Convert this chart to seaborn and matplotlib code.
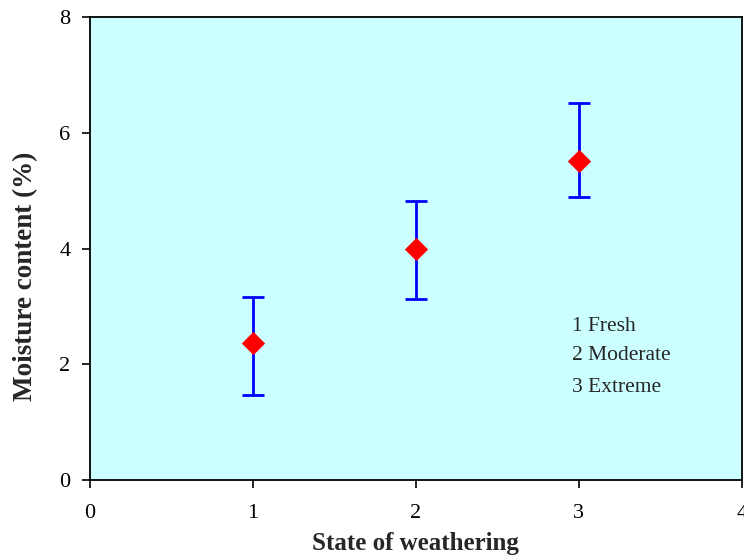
import numpy as np
import matplotlib
matplotlib.use("Agg")
import matplotlib.pyplot as plt
import seaborn as sns

# Data
weathering = [1, 2, 3]
moisture = [2.37, 4.0, 5.52]
err_low = [1.47, 3.13, 4.89]
err_high = [3.17, 4.83, 6.52]
legend_lines = ["1 Fresh", "2 Moderate", "3 Extreme"]
legend_y = [2.66, 2.16, 1.60]

sns.set_style("ticks")
plt.rcParams['font.family'] = ['Liberation Serif', 'DejaVu Serif']

fig = plt.figure(figsize=(7.44, 5.57), dpi=100)
ax = fig.add_axes([0.121, 0.138, 0.876, 0.831])
ax.set_facecolor("#CCFFFF")

m = np.array(moisture)
yerr = [m - np.array(err_low), np.array(err_high) - m]
ax.errorbar(weathering, moisture, yerr=yerr, fmt="none", ecolor="#0000FF",
            elinewidth=2, capsize=8, capthick=2, zorder=2)
sns.scatterplot(x=weathering, y=moisture, marker="D", color="#FF0000",
                s=140, linewidth=0, ax=ax, zorder=3)

ax.set_xlim(0, 4)
ax.set_ylim(0, 8)
ax.set_xticks([0, 1, 2, 3, 4])
ax.set_yticks([0, 2, 4, 6, 8])
ax.tick_params(axis="both", labelsize=16, direction="out", length=6, width=1.2, colors="black")
ax.tick_params(axis="x", pad=11)
ax.tick_params(axis="y", pad=8)
for s in ax.spines.values():
    s.set_color("black")
    s.set_linewidth(1.3)

ax.set_xlabel("State of weathering", fontsize=18, fontweight="bold", labelpad=7)
ax.set_ylabel("Moisture content (%)", fontsize=19.5, fontweight="bold")
ax.yaxis.set_label_coords(-0.08, 0.44)

for label, yy in zip(legend_lines, legend_y):
    ax.text(2.96, yy, label, fontsize=15.5, va="center")

fig.savefig("out.png", dpi=100)
